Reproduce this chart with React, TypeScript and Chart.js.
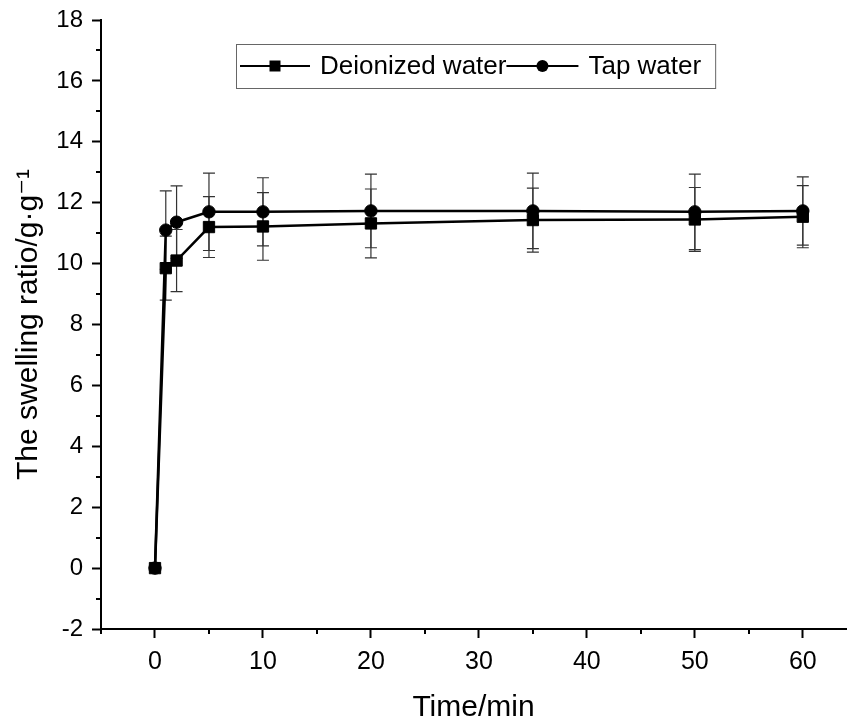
import React, { useEffect, useRef } from "react";
import { Chart, registerables } from "chart.js";

Chart.register(...registerables);

// ---- data ----
const times = [0, 1, 2, 5, 10, 20, 35, 50, 60];
const deionized = [0, 9.85, 10.1, 11.2, 11.22, 11.32, 11.43, 11.45, 11.54];
const deionizedErr = [0, 1.05, 1.02, 1.0, 1.11, 1.13, 1.05, 1.05, 1.02];
const tap = [0, 11.1, 11.36, 11.7, 11.7, 11.73, 11.73, 11.7, 11.73];
const tapErr = [0, 1.29, 1.19, 1.27, 1.12, 1.21, 1.24, 1.24, 1.12];
const seriesNames = ["Deionized water", "Tap water"];
const xTitle = "Time/min";
const yTitle = "The swelling ratio/g\u00B7g\u207B\u00B9";
const xMin = -5;
const xMax = 64;
const xStep = 10;
const xMinorStep = 5;
const yMin = -2;
const yMax = 18;
const yStep = 2;
const yMinorStep = 1;

const FONT = "'Liberation Sans', Arial, 'DejaVu Sans', sans-serif";
const errors = [deionizedErr, tapErr];

const errorBarPlugin = {
  id: "errorBars",
  beforeDatasetsDraw(chart: any) {
    const { ctx } = chart;
    const xs = chart.scales.x;
    const ys = chart.scales.y;
    ctx.save();
    ctx.strokeStyle = "#333";
    ctx.lineWidth = 1.2;
    chart.data.datasets.forEach((ds: any) => {
      const errs = errors[ds.errIndex];
      ds.data.forEach((pt: any, i: number) => {
        const e = errs[i];
        if (!e) return;
        const px = xs.getPixelForValue(pt.x);
        const top = ys.getPixelForValue(pt.y + e);
        const bot = ys.getPixelForValue(pt.y - e);
        ctx.beginPath();
        ctx.moveTo(px, top);
        ctx.lineTo(px, bot);
        ctx.moveTo(px - 6, top);
        ctx.lineTo(px + 6, top);
        ctx.moveTo(px - 6, bot);
        ctx.lineTo(px + 6, bot);
        ctx.stroke();
      });
    });
    ctx.restore();
  },
};

const minorTickPlugin = {
  id: "minorTicks",
  afterDraw(chart: any) {
    const { ctx, chartArea } = chart;
    const xs = chart.scales.x;
    const ys = chart.scales.y;
    ctx.save();
    ctx.strokeStyle = "#000";
    ctx.lineWidth = 2;
    ctx.beginPath();
    for (let v = xMin; v <= xMax; v += xMinorStep) {
      if (v % xStep === 0) continue;
      const px = Math.round(xs.getPixelForValue(v));
      ctx.moveTo(px, chartArea.bottom);
      ctx.lineTo(px, chartArea.bottom + 5);
    }
    for (let v = yMin; v <= yMax; v += yMinorStep) {
      if (v % yStep === 0) continue;
      const py = Math.round(ys.getPixelForValue(v));
      ctx.moveTo(chartArea.left, py);
      ctx.lineTo(chartArea.left - 5, py);
    }
    ctx.stroke();
    ctx.restore();
  },
};

const legendPlugin = {
  id: "customLegend",
  afterDraw(chart: any) {
    const { ctx, chartArea } = chart;
    const left = chartArea.left + 135;
    const top = chartArea.top + 24;
    const h = 44;
    const cy = top + h / 2;
    ctx.save();
    ctx.font = `26px ${FONT}`;
    ctx.textBaseline = "middle";
    ctx.fillStyle = "#000";
    let x = left + 4;
    const order = [0, 1];
    const lineLens = [70, 72];
    const gaps = [10, 10];
    order.forEach((k, idx) => {
      const ds = chart.data.datasets.find((d: any) => d.errIndex === k);
      const len = lineLens[idx];
      ctx.strokeStyle = "#000";
      ctx.lineWidth = 2;
      ctx.beginPath();
      ctx.moveTo(x, cy);
      ctx.lineTo(x + len, cy);
      ctx.stroke();
      const mx = x + len / 2;
      ctx.beginPath();
      if (ds.pointStyle === "rect") {
        ctx.rect(mx - 5.5, cy - 5.5, 11, 11);
      } else {
        ctx.arc(mx, cy, 6, 0, Math.PI * 2);
      }
      ctx.fill();
      x += len + gaps[idx];
      ctx.fillText(ds.label, x, cy + 1);
      x += ctx.measureText(ds.label).width;
    });
    x += 14;
    ctx.strokeStyle = "#666";
    ctx.lineWidth = 1;
    ctx.strokeRect(left + 0.5, top + 0.5, x - left, h);
    ctx.restore();
  },
};

const toPoints = (ys: number[]) => times.map((t, i) => ({ x: t, y: ys[i] }));

export default function App() {
  const ref = useRef<HTMLCanvasElement>(null);
  useEffect(() => {
    Chart.defaults.font.family = FONT;
    const chart = new Chart(ref.current as HTMLCanvasElement, {
      type: "line",
      data: {
        datasets: [
          {
            label: seriesNames[0],
            errIndex: 0,
            data: toPoints(deionized),
            borderColor: "#000",
            backgroundColor: "#000",
            borderWidth: 2.5,
            pointStyle: "rect",
            pointRadius: 8,
            pointBackgroundColor: "#000",
            pointBorderColor: "#000",
            pointBorderWidth: 1,
            tension: 0,
            order: 1,
          } as any,
          {
            label: seriesNames[1],
            errIndex: 1,
            data: toPoints(tap),
            borderColor: "#000",
            backgroundColor: "#000",
            borderWidth: 2.5,
            pointStyle: "circle",
            pointRadius: 6.2,
            pointBackgroundColor: "#000",
            pointBorderColor: "#000",
            pointBorderWidth: 1,
            tension: 0,
            order: 0,
          } as any,
        ],
      },
      options: {
        animation: false,
        responsive: false,
        devicePixelRatio: 1,
        layout: {
          autoPadding: false,
          padding: { top: 20, right: 2, left: 0, bottom: 0 },
        },
        plugins: {
          legend: { display: false },
          tooltip: { enabled: false },
        },
        scales: {
          x: {
            type: "linear",
            position: "bottom",
            min: xMin,
            max: xMax,
            grid: {
              display: true,
              drawOnChartArea: false,
              drawTicks: true,
              tickLength: 9,
              tickWidth: 2,
              tickColor: "#000",
            },
            border: { display: true, color: "#000", width: 2 },
            ticks: {
              stepSize: xStep,
              includeBounds: false,
              color: "#000",
              font: { size: 25 },
              padding: 9,
              maxRotation: 0,
            },
            title: {
              display: true,
              text: xTitle,
              color: "#000",
              font: { size: 30 },
              padding: { top: 4, bottom: 2 },
            },
            afterFit: (s: any) => {
              s.height = 99;
              s.paddingLeft = 0;
              s.paddingRight = 0;
            },
          },
          y: {
            type: "linear",
            position: "left",
            min: yMin,
            max: yMax,
            grid: {
              display: true,
              drawOnChartArea: false,
              drawTicks: true,
              tickLength: 9,
              tickWidth: 2,
              tickColor: "#000",
            },
            border: { display: true, color: "#000", width: 2 },
            ticks: {
              stepSize: yStep,
              color: "#000",
              font: { size: 24 },
              padding: 9,
            },
            title: {
              display: true,
              text: yTitle,
              color: "#000",
              font: { size: 30 },
              padding: { top: 11, bottom: 0 },
            },
            afterFit: (s: any) => {
              s.width = 101;
              s.paddingTop = 0;
              s.paddingBottom = 0;
            },
          },
        },
      } as any,
      plugins: [errorBarPlugin, minorTickPlugin, legendPlugin],
    });
    return () => chart.destroy();
  }, []);
  return (
    <div
      style={{
        position: "fixed",
        left: 0,
        top: 0,
        width: 848,
        height: 728,
        background: "#fff",
      }}
    >
      <canvas
        ref={ref}
        width={848}
        height={728}
        style={{ display: "block", width: 848, height: 728 }}
      />
    </div>
  );
}
